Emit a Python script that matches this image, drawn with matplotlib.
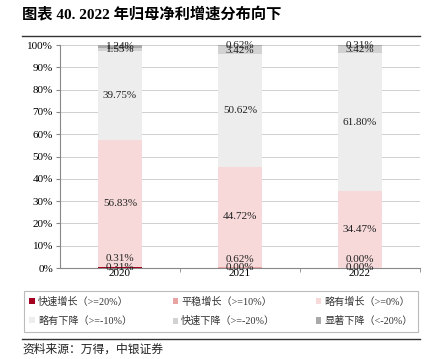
import matplotlib
matplotlib.use("Agg")
import matplotlib.pyplot as plt
import numpy as np
from matplotlib.lines import Line2D
from matplotlib.patches import Patch

plt.rcParams['font.family'] = ['Liberation Serif', 'Noto Sans CJK SC', 'DejaVu Sans']

years = ['2020', '2021', '2022']
series_names = ['快速增长（>=20%）', '平稳增长（>=10%）', '略有增长（>=0%）',
                '略有下降（>=-10%）', '快速下降（>=-20%）', '显著下降（<-20%）']
fast_up = [0.31, 0.00, 0.00]
steady_up = [0.31, 0.62, 0.00]
slight_up = [56.83, 44.72, 34.47]
slight_down = [39.75, 50.62, 61.80]
fast_down = [1.55, 3.42, 3.42]
sharp_down = [1.24, 0.62, 0.31]
series = [fast_up, steady_up, slight_up, slight_down, fast_down, sharp_down]
colors = ['#A50021', '#E8A3A3', '#F7D9D9', '#EDEDED', '#D2D2D2', '#A9A9A9']
label_offsets = [0, 8, 0, 0, 0, 0]  # pixel offsets for readability

fig = plt.figure(figsize=(4.32, 3.59), dpi=100)
ax = fig.add_axes([60/432, 1-268/359, 360/432, 223/359])

x = np.arange(len(years))
bottom = np.zeros(len(years))
for vals, col, off in zip(series, colors, label_offsets):
    v = np.array(vals)
    ax.bar(x, v, bottom=bottom, width=0.36, color=col, zorder=3)
    for xi, b, vi in zip(x, bottom, v):
        ax.annotate(f'{vi:.2f}%', (xi, b + vi/2), xytext=(0, off), textcoords='offset pixels',
                    ha='center', va='center', fontsize=8, color='#222222', zorder=5)
    bottom += v

ax.set_xlim(-0.5, 2.5)
ax.set_ylim(0, 100)
ax.set_yticks(np.arange(0, 101, 10))
ax.set_yticklabels([f'{t}%' for t in range(0, 101, 10)], fontsize=8)
ax.set_xticks(x)
ax.set_xticklabels(years, fontsize=8)
ax.set_xticks([0.5, 1.5, 2.5], minor=True)
ax.tick_params(axis='x', which='major', length=0, pad=1)
ax.tick_params(axis='x', which='minor', length=3, color='#888888', direction='out')
ax.tick_params(axis='y', length=3, color='#888888', pad=2)
ax.yaxis.grid(True, color='#C8C8C8', linewidth=0.6, zorder=0)
for s in ['top', 'right']:
    ax.spines[s].set_visible(False)
ax.spines['left'].set_color('#888888')
ax.spines['bottom'].set_color('#888888')

handles = [Patch(facecolor=c, edgecolor='none') for c in colors]
order = [0, 3, 1, 4, 2, 5]  # row-major layout across 3 columns
leg = fig.legend([handles[i] for i in order], [series_names[i] for i in order],
                 ncol=3, loc='center',
                 bbox_to_anchor=(221/432, 1-311.5/359), fontsize=7.3,
                 frameon=True, fancybox=False, edgecolor='#AAAAAA',
                 handlelength=0.55, handleheight=0.55, handletextpad=0.3,
                 columnspacing=4.0, labelspacing=0.9, borderpad=0.55, borderaxespad=0)
leg.get_frame().set_linewidth(0.8)
for t in leg.get_texts():
    t.set_color('#333333')

fig.text(22/432, 1-14/359, '图表 40. 2022 年归母净利增速分布向下', fontsize=11,
         fontweight='bold', va='center', ha='left')
fig.add_artist(Line2D([22/432, 420/432], [1-36/359, 1-36/359], color='#333333', linewidth=1))
fig.add_artist(Line2D([22/432, 420/432], [1-339/359, 1-339/359], color='#333333', linewidth=1))
fig.text(22/432, 1-350/359, '资料来源：万得，中银证券', fontsize=8.5, style='italic',
         va='center', ha='left', color='#222222')

fig.savefig('out.png', dpi=100)
